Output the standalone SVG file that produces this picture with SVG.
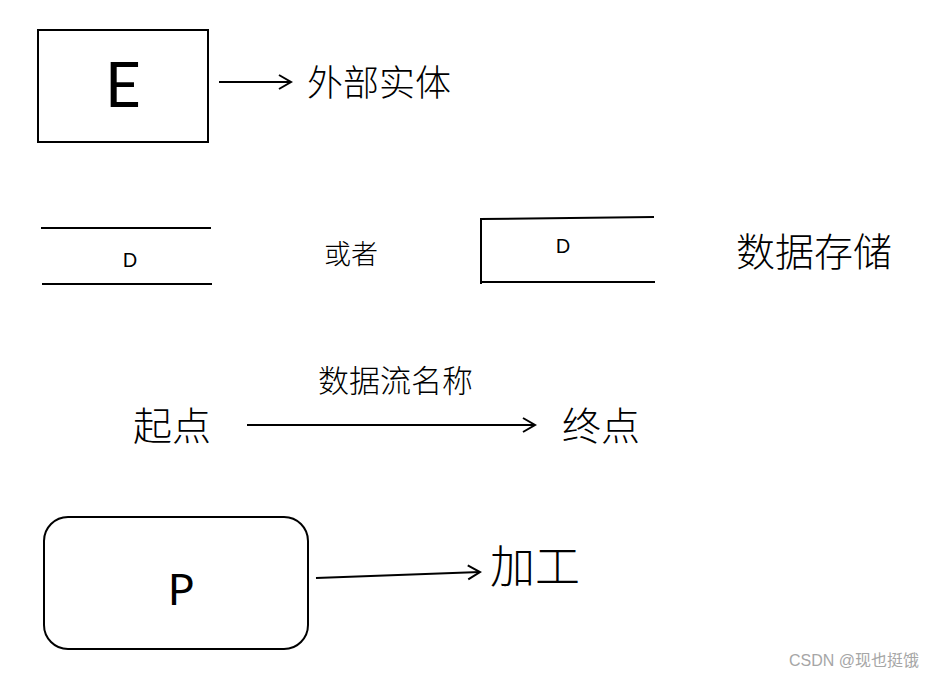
<svg xmlns="http://www.w3.org/2000/svg" width="941" height="678" viewBox="0 0 941 678">
<defs>
<style>
.shape{fill:none;stroke:#000;stroke-width:2}
.lat{font-family:Lato,"Open Sans","Liberation Sans",sans-serif;fill:#000;text-anchor:middle}
.cjk{font-family:"Noto Sans CJK SC","Noto Sans",sans-serif;fill:#000;font-weight:300}
.conn{stroke:#000;stroke-width:2;fill:none;marker-end:url(#arr)}
</style>
<marker id="arr" markerUnits="userSpaceOnUse" markerWidth="16" markerHeight="18" viewBox="0 0 16 18" refX="14" refY="9" orient="auto">
<path d="M2,2 L14,9 L2,16" fill="none" stroke="#000" stroke-width="2"/>
</marker>
</defs>
<rect width="941" height="678" fill="#fff"/>
<g id="entity">
<rect class="shape" x="38" y="30" width="170" height="112"/>
<text class="lat" x="123" y="107" font-size="62">E</text>
</g>
<g id="entity-label"><text class="cjk" x="307" y="96" font-size="36">外部实体</text></g>
<g id="store1">
<line class="shape" x1="41" y1="228" x2="211" y2="228"/>
<line class="shape" x1="42" y1="284" x2="212" y2="284"/>
<text class="lat" x="130" y="267" font-size="19">D</text>
</g>
<g id="or-label"><text class="cjk" x="324" y="264" font-size="27">或者</text></g>
<g id="store2">
<path class="shape" d="M654,217 L481,219 L481,284 M481,282 L655,282"/>
<text class="lat" x="563" y="253" font-size="19">D</text>
</g>
<g id="store-label"><text class="cjk" x="736" y="266" font-size="39">数据存储</text></g>
<g id="start"><text class="cjk" x="133" y="440" font-size="39">起点</text></g>
<g id="end"><text class="cjk" x="562" y="440" font-size="39">终点</text></g>
<g id="flow-label"><text class="cjk" x="318" y="392" font-size="31">数据流名称</text></g>
<g id="process">
<rect class="shape" x="44" y="517" width="264" height="132" rx="24" ry="24"/>
<text class="lat" x="181" y="605" font-size="43">P</text>
</g>
<g id="process-label"><text class="cjk" x="490" y="583" font-size="45">加工</text></g>
<g id="connectors">
<line class="conn" x1="219" y1="82" x2="291" y2="82"/>
<line class="conn" x1="247" y1="425" x2="535" y2="425"/>
<line class="conn" x1="316" y1="578" x2="480" y2="572"/>
</g>
<text x="789" y="666" font-size="16" font-family="'Liberation Sans','Noto Sans CJK SC',sans-serif" fill="#a6a6a6">CSDN @现也挺饿</text>
</svg>
